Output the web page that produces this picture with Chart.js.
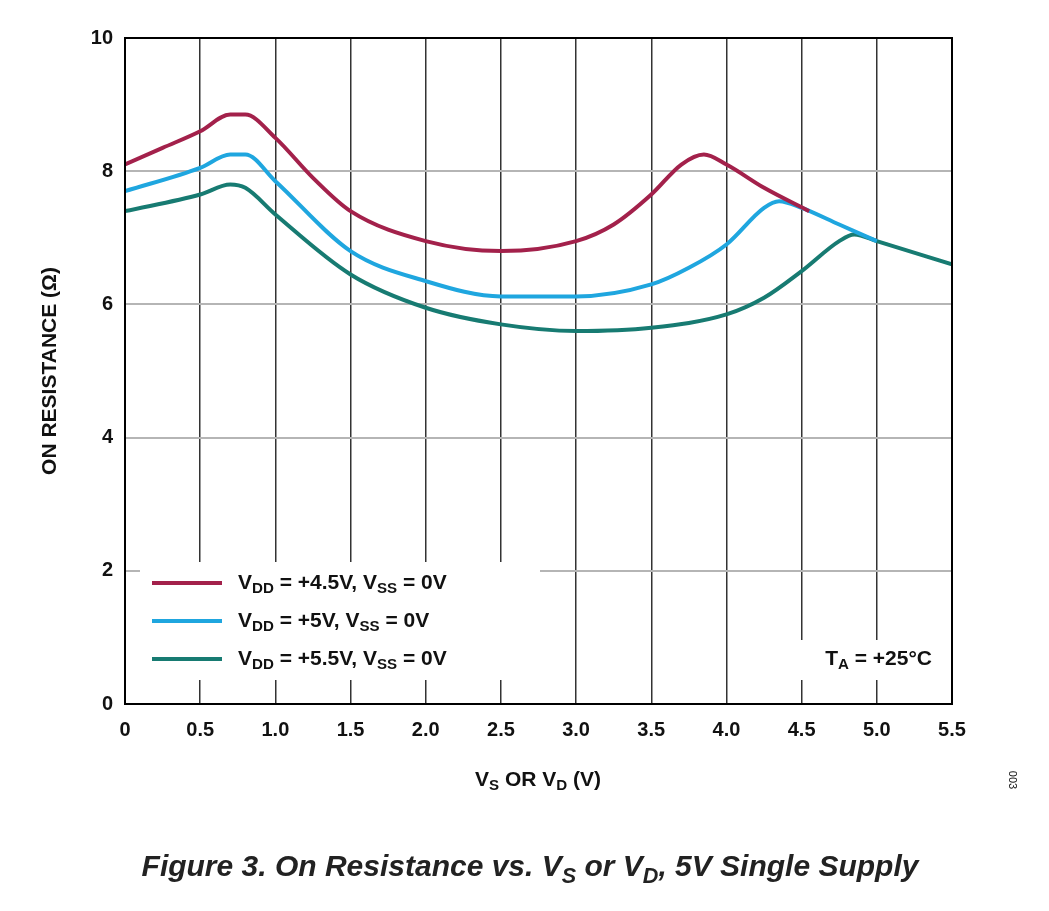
<!DOCTYPE html>
<html>
<head>
<meta charset="utf-8">
<script src="https://cdn.jsdelivr.net/npm/chart.js@4"></script>
<style>
  html, body { margin: 0; padding: 0; background: #fff; }
  #wrap { width: 1049px; height: 911px; position: relative; }
</style>
</head>
<body>
<div id="wrap"><canvas id="chart" width="1049" height="911"></canvas></div>
<script>
// V_S or V_D (V) vs on resistance (ohm)
const vdd45X = [0, 0.25, 0.5, 0.7, 0.8, 1.0, 1.25, 1.5, 2.0, 2.5, 3.0, 3.25, 3.5, 3.7, 3.85, 4.0, 4.25, 4.55];
const vdd45Y = [8.1, 8.35, 8.6, 8.85, 8.85, 8.5, 7.9, 7.4, 6.95, 6.8, 6.95, 7.2, 7.65, 8.1, 8.25, 8.1, 7.75, 7.4];
const vdd5X = [0, 0.5, 0.7, 0.8, 1.0, 1.5, 2.0, 2.5, 3.0, 3.5, 3.75, 4.0, 4.25, 4.35, 4.5, 4.75, 5.0];
const vdd5Y = [7.7, 8.05, 8.25, 8.25, 7.85, 6.8, 6.35, 6.12, 6.12, 6.3, 6.55, 6.9, 7.45, 7.55, 7.45, 7.2, 6.95];
const vdd55X = [0, 0.5, 0.7, 0.8, 1.0, 1.5, 2.0, 2.5, 3.0, 3.5, 4.0, 4.25, 4.5, 4.75, 4.85, 5.0, 5.5];
const vdd55Y = [7.4, 7.65, 7.8, 7.75, 7.35, 6.45, 5.95, 5.7, 5.6, 5.65, 5.85, 6.1, 6.5, 6.95, 7.05, 6.95, 6.6];
const xTicks = [0, 0.5, 1.0, 1.5, 2.0, 2.5, 3.0, 3.5, 4.0, 4.5, 5.0, 5.5];
const yTicks = [0, 2, 4, 6, 8, 10];

const RED = '#a3214b', BLUE = '#1fa6df', GREEN = '#177b72';
const FONT = 'Liberation Sans, Arial, sans-serif';

function pts(xs, ys) { return xs.map((x, i) => ({ x: x, y: ys[i] })); }
function series(label, xs, ys, color) {
    return {
        label: label, data: pts(xs, ys), borderColor: color, borderWidth: 4,
        pointRadius: 0, cubicInterpolationMode: 'monotone', fill: false
    };
}

// text with subscripts: parts = [[text, isSub], ...]
function drawRich(ctx, parts, x, y, size, style) {
    let cx = x;
    parts.forEach(([t, sub]) => {
        ctx.font = `${style || ''} bold ${sub ? size * 0.72 : size}px ${FONT}`;
        ctx.fillText(t, cx, sub ? y + size * 0.3 : y);
        cx += ctx.measureText(t).width;
    });
    return cx - x;
}
function richWidth(ctx, parts, size, style) {
    let w = 0;
    parts.forEach(([t, sub]) => {
        ctx.font = `${style || ''} bold ${sub ? size * 0.72 : size}px ${FONT}`;
        w += ctx.measureText(t).width;
    });
    return w;
}

const decorPlugin = {
    id: 'decor',
    afterDraw(chart) {
        const ctx = chart.ctx, a = chart.chartArea;
        ctx.save();
        ctx.strokeStyle = '#000'; ctx.lineWidth = 2;
        ctx.strokeRect(a.left, a.top, a.right - a.left, a.bottom - a.top);
        ctx.fillStyle = '#111'; ctx.textBaseline = 'middle'; ctx.textAlign = 'left';

        // legend
        const legend = [
            [RED, [['V', 0], ['DD', 1], [' = +4.5V, V', 0], ['SS', 1], [' = 0V', 0]]],
            [BLUE, [['V', 0], ['DD', 1], [' = +5V, V', 0], ['SS', 1], [' = 0V', 0]]],
            [GREEN, [['V', 0], ['DD', 1], [' = +5.5V, V', 0], ['SS', 1], [' = 0V', 0]]]
        ];
        ctx.fillStyle = '#fff';
        ctx.fillRect(140, 562, 400, 118);
        legend.forEach(([c, parts], i) => {
            const y = 583 + i * 38;
            ctx.strokeStyle = c; ctx.lineWidth = 4;
            ctx.beginPath(); ctx.moveTo(152, y); ctx.lineTo(222, y); ctx.stroke();
            ctx.fillStyle = '#111';
            drawRich(ctx, parts, 238, y, 21);
        });
        // TA
        const ta = [['T', 0], ['A', 1], [' = +25°C', 0]];
        ctx.fillStyle = '#fff';
        ctx.fillRect(775, 640, 165, 40);
        ctx.fillStyle = '#111';
        drawRich(ctx, ta, 932 - richWidth(ctx, ta, 21), 659, 21);

        // x title
        const xt = [['V', 0], ['S', 1], [' OR V', 0], ['D', 1], [' (V)', 0]];
        drawRich(ctx, xt, 538 - richWidth(ctx, xt, 21) / 2, 780, 21);

        // y title
        ctx.save();
        ctx.translate(50, 371); ctx.rotate(-Math.PI / 2);
        ctx.textAlign = 'center'; ctx.font = `bold 21px ${FONT}`;
        ctx.fillText('ON RESISTANCE (Ω)', 0, 0);
        ctx.restore();

        // figure id
        ctx.save();
        ctx.translate(1012, 780); ctx.rotate(Math.PI / 2);
        ctx.textAlign = 'center'; ctx.font = `11px ${FONT}`;
        ctx.fillText('003', 0, 0);
        ctx.restore();

        // caption
        const cap = [['Figure 3. On Resistance vs. V', 0], ['S', 1], [' or V', 0], ['D', 1], [', 5V Single Supply', 0]];
        ctx.fillStyle = '#222';
        drawRich(ctx, cap, 530 - richWidth(ctx, cap, 30, 'italic') / 2, 868, 30, 'italic');
        ctx.restore();
    }
};

new Chart(document.getElementById('chart'), {
    type: 'line',
    data: {
        datasets: [
            series('VDD = +4.5V, VSS = 0V', vdd45X, vdd45Y, RED),
            series('VDD = +5V, VSS = 0V', vdd5X, vdd5Y, BLUE),
            series('VDD = +5.5V, VSS = 0V', vdd55X, vdd55Y, GREEN)
        ]
    },
    options: {
        responsive: false,
        animation: false,
        layout: { padding: { top: 38, right: 97, left: 0, bottom: 0 } },
        plugins: { legend: { display: false }, tooltip: { enabled: false } },
        scales: {
            x: {
                type: 'linear', min: 0, max: 5.5,
                afterBuildTicks: s => { s.ticks = xTicks.map(v => ({ value: v })); },
                afterFit: s => { s.height = 207; },
                grid: { color: '#333', lineWidth: 1.5, drawTicks: false },
                border: { display: false },
                ticks: {
                    color: '#111', padding: 14, maxRotation: 0,
                    font: { family: FONT, size: 20, weight: 'bold' },
                    callback: v => v === 0 ? '0' : v.toFixed(1)
                }
            },
            y: {
                type: 'linear', min: 0, max: 10,
                afterBuildTicks: s => { s.ticks = yTicks.map(v => ({ value: v })); },
                afterFit: s => { s.width = 125; },
                grid: { color: '#b5b5b5', lineWidth: 2, drawTicks: false },
                border: { display: false },
                ticks: {
                    color: '#111', padding: 12,
                    font: { family: FONT, size: 20, weight: 'bold' }
                }
            }
        }
    },
    plugins: [decorPlugin]
});
</script>
</body>
</html>
